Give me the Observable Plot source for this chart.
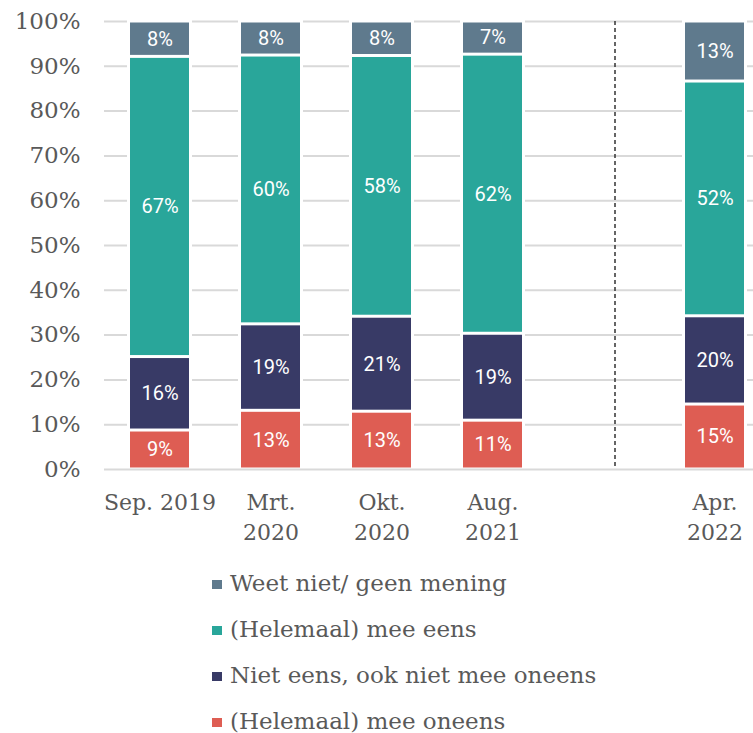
<!DOCTYPE html>
<html>
<head>
<meta charset="utf-8">
<script src="https://cdn.jsdelivr.net/npm/d3@7"></script>
<script src="https://cdn.jsdelivr.net/npm/@observablehq/plot@0.6"></script>
<style>
  html, body { margin: 0; padding: 0; background: white; overflow: hidden; }
  #legend { padding-top: 5px; font-family: "DejaVu Serif", serif; font-size: 23px; color: #595959; }
  .item { height: 46px; line-height: 46px; padding-left: 212px; white-space: nowrap; }
  .sw { display: inline-block; width: 10px; height: 9px; margin-right: 8px; vertical-align: middle; position: relative; top: -1px; }
</style>
</head>
<body>
<div id="chart"></div>
<div id="legend"></div>
<script>
// Periods (the empty entry is the gap before the last survey)
const periods = ["Sep. 2019", "Mrt. 2020", "Okt. 2020", "Aug. 2021", "", "Apr. 2022"];
const periodLabels = ["Sep. 2019", "Mrt.\n2020", "Okt.\n2020", "Aug.\n2021", "", "Apr.\n2022"];
const surveyed = ["Sep. 2019", "Mrt. 2020", "Okt. 2020", "Aug. 2021", "Apr. 2022"];
// Series, bottom to top
const series = ["(Helemaal) mee oneens", "Niet eens, ook niet mee oneens", "(Helemaal) mee eens", "Weet niet/ geen mening"];
const colors = ["#de5d53", "#383a66", "#29a69a", "#5f7a8d"];
// Values (%); labels show them rounded
const oneens = [8.7, 13.1, 12.9, 10.9, 14.5];
const neutraal = [16.4, 19.3, 21.2, 19.4, 19.7];
const eens = [67.0, 60.0, 58.2, 62.3, 52.4];
const weetNiet = [7.9, 7.6, 7.7, 7.4, 13.4];
const yTicks = [0, 10, 20, 30, 40, 50, 60, 70, 80, 90, 100];
const dividerAt = [""];

const seriesValues = [oneens, neutraal, eens, weetNiet];
const rows = [];
surveyed.forEach((p, i) => {
  series.forEach((s, j) => rows.push({period: p, series: s, value: seriesValues[j][i]}));
});

const grid = "#d9d9d9";
const textCol = "#595959";

const chart = Plot.plot({
  width: 770,
  height: 555,
  marginLeft: 104,
  marginRight: 0,
  marginTop: 21,
  marginBottom: 86,
  style: {maxWidth: "none", overflow: "hidden"},
  x: {domain: periods, paddingInner: 0.47, paddingOuter: 0.235, align: 0.5},
  y: {domain: [0, 100]},
  color: {domain: series, range: colors},
  marks: [
    Plot.gridY(yTicks.filter(d => d > 0), {stroke: grid, strokeOpacity: 1, strokeWidth: 2}),
    Plot.barY(rows, Plot.stackY({x: "period", y: "value", z: "series", fill: "white", stroke: "white", strokeWidth: 6})),
    Plot.barY(rows, Plot.stackY({x: "period", y: "value", z: "series", fill: "series", insetTop: 1.5, insetBottom: 1.5})),
    Plot.ruleY([0], {stroke: grid, strokeWidth: 2}),
    Plot.ruleX(dividerAt, {x: d => d, dx: 11, stroke: "#333", strokeWidth: 1.5, strokeDasharray: "4,3"}),
    Plot.text(rows, Plot.stackY({x: "period", y: "value", z: "series", text: d => Math.round(d.value) + "%", fill: "white", fontSize: 20, fontWeight: 400, fontFamily: "Roboto"})),
    Plot.axisY(yTicks, {tickSize: 0, tickPadding: 24, tickFormat: d => d + "%", fontSize: 23, fontFamily: "DejaVu Serif", fill: textCol, label: null}),
    Plot.axisX({tickSize: 0, tickPadding: 19, tickFormat: d => periodLabels[periods.indexOf(d)], fontSize: 22, fontFamily: "DejaVu Serif", fill: textCol, lineHeight: 1.36, label: null})
  ]
});
document.getElementById("chart").appendChild(chart);

const legend = document.getElementById("legend");
[...series].reverse().forEach(s => {
  const div = document.createElement("div");
  div.className = "item";
  const sw = document.createElement("span");
  sw.className = "sw";
  sw.style.background = colors[series.indexOf(s)];
  div.appendChild(sw);
  div.appendChild(document.createTextNode(s));
  legend.appendChild(div);
});
</script>
</body>
</html>
